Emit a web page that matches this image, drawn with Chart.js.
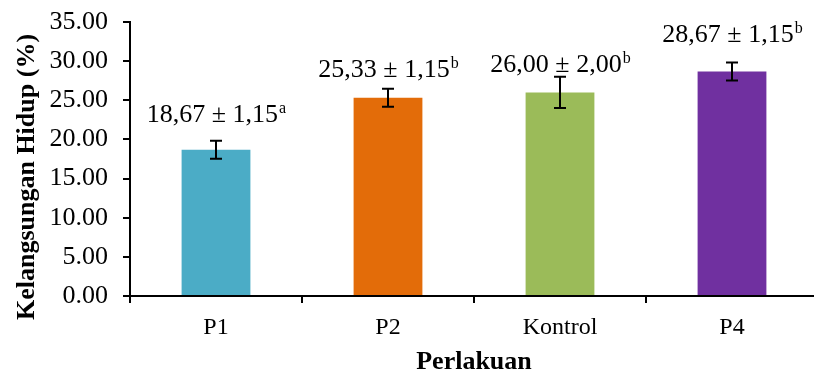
<!DOCTYPE html>
<html>
<head>
<meta charset="utf-8">
<script src="https://cdn.jsdelivr.net/npm/chart.js@4.4.1/dist/chart.umd.min.js"></script>
<style>
html,body{margin:0;padding:0;background:#fff;overflow:hidden;width:814px;height:376px;}
#wrap{width:818px;height:376px;position:relative;}
</style>
</head>
<body>
<div id="wrap"><canvas id="c"></canvas></div>
<script>
// ---- data ----
const categories = ['P1', 'P2', 'Kontrol', 'P4'];
const means = [18.67, 25.33, 26.00, 28.67];
const sds = [1.15, 1.15, 2.00, 1.15];
const letters = ['a', 'b', 'b', 'b'];
const yTickValues = [0, 5, 10, 15, 20, 25, 30, 35];
const barColors = ['#4BACC6', '#E36C09', '#9BBB59', '#7030A0'];
const yTitle = 'Kelangsungan Hidup (%)';
const xTitle = 'Perlakuan';

const FONT = '"Liberation Serif", "Times New Roman", serif';
const fmt = v => v.toFixed(2).replace('.', ',');

const errorLabelPlugin = {
  id: 'errorLabels',
  afterDatasetsDraw(chart, args, opts) {
    const ctx = chart.ctx;
    const meta = chart.getDatasetMeta(0);
    const y = chart.scales.y;
    ctx.save();
    ctx.strokeStyle = '#000';
    ctx.lineWidth = 2;
    meta.data.forEach((bar, i) => {
      const x = Math.round(bar.x);
      const top = y.getPixelForValue(means[i] + sds[i]);
      const bot = y.getPixelForValue(means[i] - sds[i]);
      ctx.beginPath();
      ctx.moveTo(x, top); ctx.lineTo(x, bot);
      ctx.moveTo(x - 6, top); ctx.lineTo(x + 6, top);
      ctx.moveTo(x - 6, bot); ctx.lineTo(x + 6, bot);
      ctx.stroke();
    });
    ctx.fillStyle = '#000';
    ctx.textBaseline = 'alphabetic';
    ctx.textAlign = 'left';
    meta.data.forEach((bar, i) => {
      const main = fmt(means[i]) + ' \u00B1 ' + fmt(sds[i]);
      ctx.font = opts.mainSize + 'px ' + FONT;
      const w1 = ctx.measureText(main).width;
      ctx.font = opts.supSize + 'px ' + FONT;
      const w2 = ctx.measureText(letters[i]).width;
      const x0 = bar.x - (w1 + w2) / 2;
      const base = y.getPixelForValue(means[i] + sds[i]) - opts.offsets[i];
      ctx.font = opts.mainSize + 'px ' + FONT;
      ctx.fillText(main, x0, base);
      ctx.font = opts.supSize + 'px ' + FONT;
      ctx.fillText(letters[i], x0 + w1 + 1, base - opts.supRaise);
    });
    // y axis title (centred slightly below the plot middle, as in the reference)
    const ca = chart.chartArea;
    ctx.save();
    ctx.font = 'bold 26px ' + FONT;
    ctx.textAlign = 'center';
    ctx.textBaseline = 'middle';
    ctx.translate(opts.yTitleX, (ca.top + ca.bottom) / 2 + opts.yTitleShift);
    ctx.rotate(-Math.PI / 2);
    ctx.fillText(yTitle, 0, 0);
    ctx.restore();
    ctx.restore();
  }
};

new Chart(document.getElementById('c'), {
  type: 'bar',
  data: {
    labels: categories,
    datasets: [{
      data: means,
      backgroundColor: barColors,
      borderWidth: 0,
      barPercentage: 0.4,
      categoryPercentage: 1.0
    }]
  },
  options: {
    responsive: true,
    maintainAspectRatio: false,
    devicePixelRatio: 1,
    animation: false,
    layout: { padding: { top: 22, right: 0, bottom: 0, left: 0 } },
    plugins: {
      legend: { display: false },
      tooltip: { enabled: false },
      errorLabels: { offsets: [19, 12, 5, 21], mainSize: 26, supSize: 16, supRaise: 9, yTitleX: 27, yTitleShift: 18 }
    },
    scales: {
      x: {
        afterFit(scale) { scale.height = 80; scale.paddingLeft = 0; scale.paddingRight = 0; },
        grid: { display: true, drawOnChartArea: false, drawTicks: true, tickLength: 7, color: '#000', lineWidth: 2, offset: true },
        border: { display: true, color: '#000', width: 2 },
        ticks: { color: '#000', font: { family: FONT, size: 24 }, padding: 10, maxRotation: 0 },
        title: { display: true, text: xTitle, color: '#000', font: { family: FONT, size: 26, weight: 'bold' }, padding: { top: 0, bottom: -2 } }
      },
      y: {
        min: 0, max: 35,
        afterFit(scale) { scale.width = 130; scale.paddingTop = 0; scale.paddingBottom = 0; },
        afterBuildTicks(scale) { scale.ticks = yTickValues.map(v => ({ value: v })); },
        grid: { display: true, drawOnChartArea: false, drawTicks: true, tickLength: 7, color: '#000', lineWidth: 2 },
        border: { display: true, color: '#000', width: 2 },
        ticks: { color: '#000', font: { family: FONT, size: 26 }, padding: 15, callback: v => Number(v).toFixed(2) },
        title: { display: false, text: yTitle }
      }
    }
  },
  plugins: [errorLabelPlugin]
});
</script>
</body>
</html>
